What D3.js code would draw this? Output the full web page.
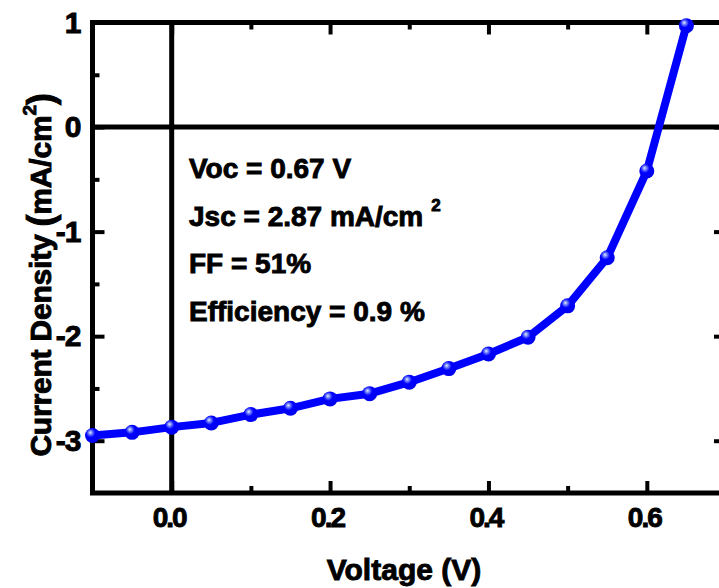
<!DOCTYPE html>
<html>
<head>
<meta charset="utf-8">
<script src="https://cdn.jsdelivr.net/npm/d3@7"></script>
<style>
  body { margin: 0; background: #fff; }
  svg { display: block; }
  text { font-family: "Liberation Sans", Arial, sans-serif; font-weight: 700; fill: #000; stroke: #000; stroke-width: 0.9px; }
</style>
</head>
<body>
<svg id="chart" width="719" height="588"></svg>
<script>
// J–V curve of the cell
const voltage = [-0.10, -0.05, 0.00, 0.05, 0.10, 0.15, 0.20, 0.25, 0.30, 0.35, 0.40, 0.45, 0.50, 0.55, 0.60, 0.65];
const currentDensity = [-2.95, -2.92, -2.87, -2.83, -2.75, -2.69, -2.60, -2.55, -2.44, -2.31, -2.17, -2.01, -1.71, -1.25, -0.42, 0.97];

const xTickLabels = [0.0, 0.2, 0.4, 0.6];
const xMinorTicks = [0.1, 0.3, 0.5];
const yMajorTicks = [1, 0, -1, -2, -3];
const yMinorTicks = [0.5, -0.5, -1.5, -2.5];

const annotationLines = ["Voc = 0.67 V", "Jsc = 2.87 mA/cm", "FF = 51%", "Efficiency = 0.9 %"];

const svg = d3.select("#chart");
const plotLeft = 92.5, plotRight = 726, plotTop = 22.5, plotBottom = 493;

const x = d3.scaleLinear().domain([-0.1, 0.7]).range([plotLeft, plotRight]);
const y = d3.scaleLinear().domain([-3.5, 1]).range([plotBottom, plotTop]);

const fmtX = d3.format(".1f");
const fmtY = v => (v < 0 ? "-" : "") + Math.abs(v);

// Zero reference lines
svg.append("line").attr("x1", x(0)).attr("x2", x(0)).attr("y1", plotTop).attr("y2", plotBottom)
  .attr("stroke", "#000").attr("stroke-width", 5);
svg.append("line").attr("x1", plotLeft).attr("x2", plotRight).attr("y1", y(0)).attr("y2", y(0))
  .attr("stroke", "#000").attr("stroke-width", 5);

function styleTicks(g, width) {
  g.select(".domain").remove();
  g.selectAll(".tick line").attr("stroke", "#000").attr("stroke-width", width);
}
function styleLabels(g, size, spacing) {
  g.selectAll("text").attr("font-size", size).attr("letter-spacing", spacing)
    .attr("font-family", "'Liberation Sans', Arial, sans-serif").attr("font-weight", 700)
    .attr("fill", "#000").attr("stroke", "#000").attr("stroke-width", 0.9);
}

// Bottom axis with labels
svg.append("g").attr("transform", `translate(0,${plotBottom})`)
  .call(d3.axisBottom(x).tickValues(xTickLabels).tickSize(-12).tickPadding(14).tickFormat(fmtX))
  .call(g => styleTicks(g, 4))
  .call(g => styleLabels(g, 28, -2))
  .call(g => g.selectAll("text").attr("dx", -3));
svg.append("g").attr("transform", `translate(0,${plotBottom})`)
  .call(d3.axisBottom(x).tickValues(xMinorTicks).tickSize(-7).tickFormat(""))
  .call(g => styleTicks(g, 4));

// Top axis (ticks only)
svg.append("g").attr("transform", `translate(0,${plotTop})`)
  .call(d3.axisTop(x).tickValues(xTickLabels).tickSize(-12).tickFormat(""))
  .call(g => styleTicks(g, 4));
svg.append("g").attr("transform", `translate(0,${plotTop})`)
  .call(d3.axisTop(x).tickValues(xMinorTicks).tickSize(-7).tickFormat(""))
  .call(g => styleTicks(g, 4));

// Left axis with labels
svg.append("g").attr("transform", `translate(${plotLeft},0)`)
  .call(d3.axisLeft(y).tickValues(yMajorTicks).tickSize(-12).tickPadding(12).tickFormat(fmtY))
  .call(g => styleTicks(g, 4))
  .call(g => styleLabels(g, 30, -1));
svg.append("g").attr("transform", `translate(${plotLeft},0)`)
  .call(d3.axisLeft(y).tickValues(yMinorTicks).tickSize(-7).tickFormat(""))
  .call(g => styleTicks(g, 4));

// Right axis (ticks only)
svg.append("g").attr("transform", `translate(${plotRight},0)`)
  .call(d3.axisRight(y).tickValues(yMajorTicks).tickSize(-12).tickFormat(""))
  .call(g => styleTicks(g, 4));
svg.append("g").attr("transform", `translate(${plotRight},0)`)
  .call(d3.axisRight(y).tickValues(yMinorTicks).tickSize(-7).tickFormat(""))
  .call(g => styleTicks(g, 4));

// Frame
svg.append("rect").attr("x", plotLeft).attr("y", plotTop)
  .attr("width", plotRight - plotLeft).attr("height", plotBottom - plotTop)
  .attr("fill", "none").attr("stroke", "#000").attr("stroke-width", 5);

// Marker shading
const defs = svg.append("defs");
const grad = defs.append("radialGradient").attr("id", "ball")
  .attr("cx", "40%").attr("cy", "35%").attr("r", "60%").attr("fx", "35%").attr("fy", "30%");
grad.append("stop").attr("offset", "0%").attr("stop-color", "#e6ecff");
grad.append("stop").attr("offset", "22%").attr("stop-color", "#6f80ff");
grad.append("stop").attr("offset", "50%").attr("stop-color", "#0000ff");
grad.append("stop").attr("offset", "100%").attr("stop-color", "#0000f0");

const points = voltage.map((v, i) => [v, currentDensity[i]]);
const line = d3.line().x(d => x(d[0])).y(d => y(d[1]));

svg.append("path").datum(points).attr("d", line)
  .attr("fill", "none").attr("stroke", "#0000ff").attr("stroke-width", 8)
  .attr("stroke-linejoin", "round");

svg.append("g").selectAll("circle").data(points).join("circle")
  .attr("cx", d => x(d[0])).attr("cy", d => y(d[1])).attr("r", 7.5)
  .attr("fill", "url(#ball)");

// Cell parameters
const notes = svg.append("g").attr("font-size", 28).attr("letter-spacing", 0);
annotationLines.forEach((t, i) => {
  const txt = notes.append("text").attr("x", 189).attr("y", 178 + i * 47.5).text(t);
  if (i === 1) txt.append("tspan").attr("font-size", 17).attr("dy", -15).attr("dx", 8).text("2");
});

// Axis titles
svg.append("text").attr("x", 404).attr("y", 580).attr("text-anchor", "middle")
  .attr("font-size", 30).attr("letter-spacing", 0).text("Voltage (V)");

const yt = svg.append("text").attr("transform", "translate(51,275) rotate(-90)")
  .attr("text-anchor", "middle").attr("font-size", 30).attr("letter-spacing", -0.2);
yt.append("tspan").text("Current Density ");
yt.append("tspan").attr("font-size", 36).attr("dy", 2).text("(");
yt.append("tspan").attr("dy", -2).text("mA/cm");
yt.append("tspan").attr("font-size", 19).attr("dy", -15).text("2");
yt.append("tspan").attr("font-size", 36).attr("dy", 17).text(")");
</script>
</body>
</html>
